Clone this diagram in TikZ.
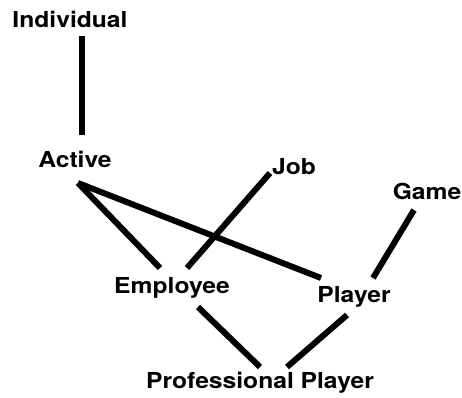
\documentclass[tikz,border=0pt]{standalone}
\usepackage{fontspec}
\newfontfamily\diagfont[FakeStretch=1.12]{TeX Gyre Heros}
\usetikzlibrary{positioning}

\begin{document}
\begin{tikzpicture}[
  x=1pt, y=-1pt,
  every node/.style={font=\diagfont\bfseries\fontsize{22}{26}\selectfont},
  lbl/.style={anchor=base, inner sep=0pt},
  link/.style={line width=6pt, draw=black}
]
\useasboundingbox (0,0) rectangle (462,397);

% Top: generic concepts
\node[lbl] (ind) at (70,27) {Individual};
\node[lbl] (act) at (75,167) {Active};
\node[lbl] (job) at (294,174) {Job};
\node[lbl] (game) at (427,199) {Game};

% Middle: roles
\node[lbl] (emp) at (172,293) {Employee};
\node[lbl] (ply) at (354,302) {Player};

% Bottom: combined concept
\node[lbl] (pro) at (260,388) {Professional Player};

% Connections
\draw[link] ([shift={(12,9)}]ind.base) -- ([shift={(7,-32)}]act.base);
\draw[link] ([shift={(3,16)}]act.base) -- ([shift={(-12,-25)}]emp.base);
\draw[link] ([shift={(3,16)}]act.base) -- ([shift={(-33,-24)}]ply.base);
\draw[link] ([shift={(-24,-1)}]job.base) -- ([shift={(15,-25)}]emp.base);
\draw[link] ([shift={(-13,11)}]game.base) -- ([shift={(19,-24)}]ply.base);
\draw[link] ([shift={(26,14)}]emp.base) -- ([shift={(0,-21)}]pro.base);
\draw[link] ([shift={(-7,13)}]ply.base) -- ([shift={(27,-21)}]pro.base);
\end{tikzpicture}
\end{document}
